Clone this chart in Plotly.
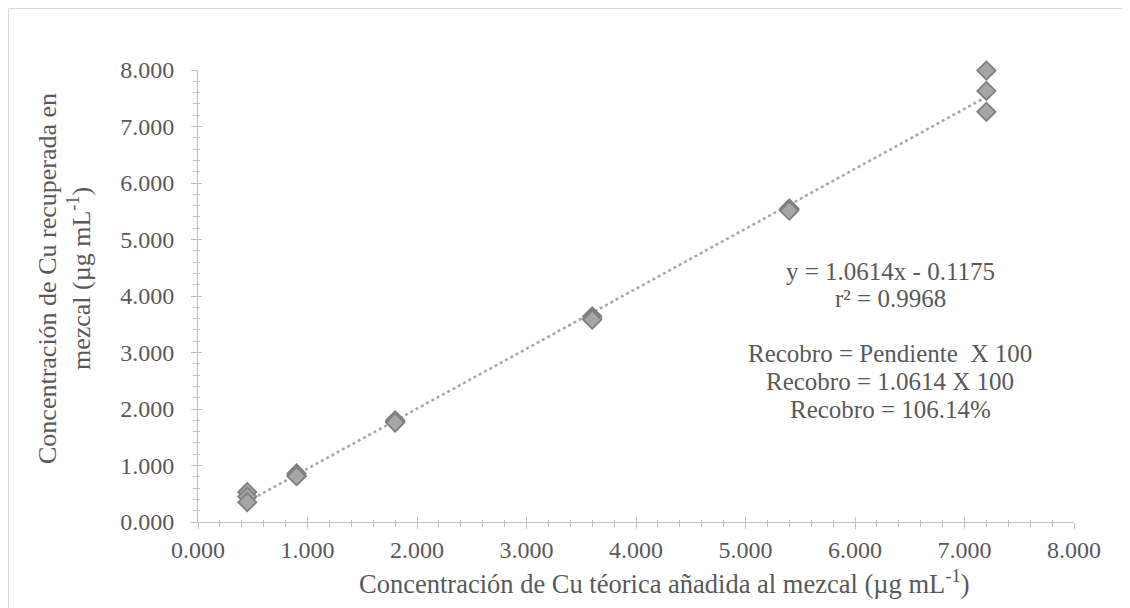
import plotly.graph_objects as go

# Data
x_added = [0.45, 0.45, 0.45, 0.9, 0.9, 0.9, 1.8, 1.8, 1.8, 3.6, 3.6, 3.6, 5.4, 5.4, 5.4, 7.2, 7.2, 7.2]
y_recovered = [0.53, 0.45, 0.35, 0.86, 0.82, 0.81, 1.80, 1.77, 1.76, 3.64, 3.60, 3.58, 5.55, 5.53, 5.51, 7.99, 7.63, 7.26]
slope = 1.0614
intercept = -0.1175
tick_vals = [0, 1, 2, 3, 4, 5, 6, 7, 8]
tick_text = ["0.000", "1.000", "2.000", "3.000", "4.000", "5.000", "6.000", "7.000", "8.000"]
info_lines = ["y = 1.0614x - 0.1175", "r² = 0.9968", "",
              "Recobro = Pendiente  X 100", "Recobro = 1.0614 X 100", "Recobro = 106.14%"]

FONT = "Liberation Serif, Times New Roman, serif"
TXT = "#595959"
AX = "#bfbfbf"

# page-pixel helpers (figure sits at page offset 8,8; plot area page 198..1074 x 70..522)
PX0, PX1, PY0, PY1 = 198, 1074, 70, 522
def xp(px):
    return (px - PX0) / (PX1 - PX0)
def yp(py):
    return (PY1 - py) / (PY1 - PY0)

x_fit = [min(x_added), max(x_added)]
y_fit = [slope * v + intercept for v in x_fit]

fig = go.Figure()
fig.add_trace(go.Scatter(x=x_fit, y=y_fit, mode="lines",
                         line=dict(color="#a6a6a6", width=2.5, dash="dot"),
                         hoverinfo="skip", showlegend=False))
fig.add_trace(go.Scatter(x=x_added, y=y_recovered, mode="markers", cliponaxis=False,
                         marker=dict(symbol="diamond", size=14, color="#a6a6a6",
                                     line=dict(color="#7f7f7f", width=1.8)),
                         showlegend=False))
# invisible trace for the overlay axes (inside half of cross ticks)
fig.add_trace(go.Scatter(x=[None], y=[None], xaxis="x2", yaxis="y2",
                         mode="markers", showlegend=False, hoverinfo="skip"))

common = dict(range=[0, 8], tickmode="array", tickvals=tick_vals,
              showgrid=False, zeroline=False, linecolor=AX, linewidth=1,
              tickcolor=AX, fixedrange=True)

fig.update_layout(
    width=1122, height=600,
    margin=dict(l=190, r=56, t=62, b=86),
    paper_bgcolor="white", plot_bgcolor="white",
    font=dict(family=FONT, color=TXT, size=24),
    xaxis=dict(**common, ticktext=tick_text, ticks="outside", ticklen=6,
               showline=True, tickfont=dict(size=24, color=TXT),
               minor=dict(dtick=0.2, ticks="outside", ticklen=4, tickcolor=AX)),
    yaxis=dict(**common, ticktext=tick_text, ticks="outside", ticklen=6,
               showline=True, tickfont=dict(size=24, color=TXT), ticklabelstandoff=12,
               minor=dict(dtick=0.2, ticks="outside", ticklen=4, tickcolor=AX)),
    xaxis2=dict(**common, overlaying="x", ticks="inside", ticklen=5,
                showline=False, showticklabels=False, anchor="y2",
                minor=dict(dtick=0.2, ticks="inside", ticklen=2, tickcolor=AX)),
    yaxis2=dict(**common, overlaying="y", ticks="inside", ticklen=4,
                showline=False, showticklabels=False, anchor="x2",
                minor=dict(dtick=0.2, ticks="inside", ticklen=2, tickcolor=AX)),
)

# outer chart border
fig.add_shape(type="rect", xref="paper", yref="paper",
              x0=xp(8.5), x1=xp(1140), y0=yp(620), y1=yp(8.5),
              line=dict(color="#d9d9d9", width=1), layer="below")

# axis titles
fig.add_annotation(xref="paper", yref="paper", x=xp(664), y=yp(582),
                   text="Concentración de Cu téorica añadida al mezcal (µg mL<sup>-1</sup>)",
                   showarrow=False, xanchor="center", yanchor="middle",
                   font=dict(size=26.5, color=TXT))
fig.add_annotation(xref="paper", yref="paper", x=xp(64), y=yp(279),
                   text="Concentración de Cu recuperada en<br>mezcal (µg mL<sup>-1</sup>)",
                   showarrow=False, textangle=-90, xanchor="center", yanchor="middle",
                   font=dict(size=26, color=TXT))

# equation / recovery text, one annotation per line
for i, line in enumerate(info_lines):
    if not line:
        continue
    fig.add_annotation(xref="paper", yref="paper", x=xp(890), y=yp(271 + 27.6 * i),
                       text=line, showarrow=False, xanchor="center", yanchor="middle",
                       font=dict(size=25, color=TXT))

fig.write_html("out.html")
